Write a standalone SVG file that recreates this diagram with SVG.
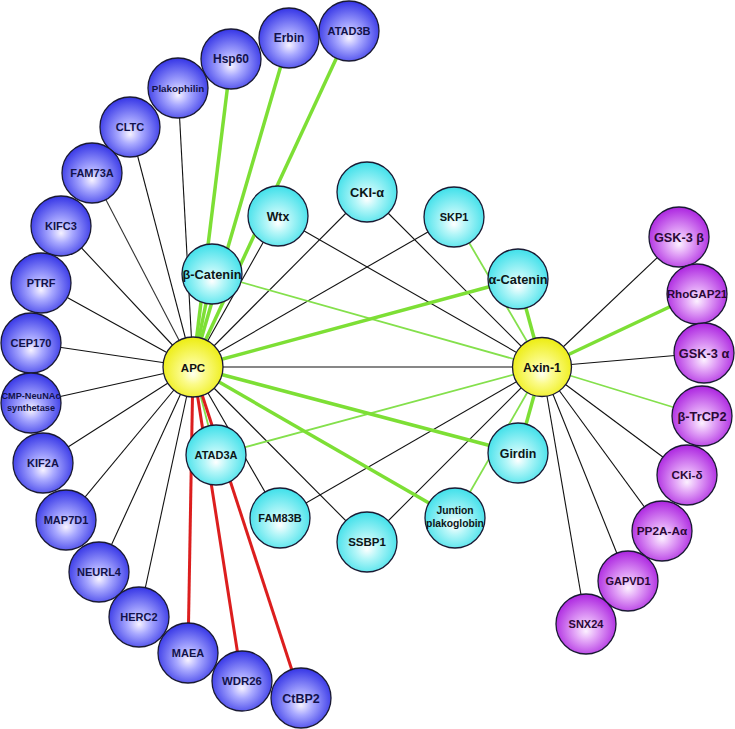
<svg xmlns="http://www.w3.org/2000/svg" width="735" height="729" viewBox="0 0 735 729">
<defs>
<radialGradient id="gB" cx="50%" cy="55%" r="55%" fx="50%" fy="62%"><stop offset="0" stop-color="#f6f2ff"/><stop offset="0.35" stop-color="#a9a9ff"/><stop offset="1" stop-color="#3535e6"/></radialGradient>
<radialGradient id="gC" cx="50%" cy="55%" r="55%" fx="50%" fy="62%"><stop offset="0" stop-color="#ffffff"/><stop offset="0.35" stop-color="#b4f6f8"/><stop offset="1" stop-color="#3fe0ea"/></radialGradient>
<radialGradient id="gM" cx="50%" cy="55%" r="55%" fx="50%" fy="62%"><stop offset="0" stop-color="#fcf0ff"/><stop offset="0.35" stop-color="#e3a6f7"/><stop offset="1" stop-color="#ac24e0"/></radialGradient>
<radialGradient id="gY" cx="50%" cy="55%" r="55%" fx="50%" fy="62%"><stop offset="0" stop-color="#ffffee"/><stop offset="0.35" stop-color="#fbfb8a"/><stop offset="1" stop-color="#eded10"/></radialGradient>
</defs>
<style>
circle{stroke:#1a1a33;stroke-width:1.3}
.b circle{fill:url(#gB)} .c circle{fill:url(#gC)} .m circle{fill:url(#gM)} .y circle{fill:url(#gY)}
text{font-family:"Liberation Sans",Arial,sans-serif;font-weight:bold;text-anchor:middle;font-size:11px}
.b text{fill:#12124a} .c text{fill:#0c1618} .m text{fill:#2a0836} .y text{fill:#111}
line{fill:none}
.k{stroke:#111;stroke-width:1.1}
.gt{stroke:#7ddf35;stroke-width:3.5}
.gn{stroke:#84e04c;stroke-width:1.8}
.r{stroke:#dc1e1e;stroke-width:3}
</style>
<rect width="735" height="729" fill="#fff"/>
<g id="edges">
<line class="k" x1="193" y1="367" x2="61" y2="226"/>
<line class="k" x1="193" y1="367" x2="92" y2="173" style="stroke:#333"/>
<line class="k" x1="193" y1="367" x2="130" y2="127"/>
<line class="k" x1="193" y1="367" x2="178" y2="88"/>
<line class="k" x1="193" y1="367" x2="41" y2="283"/>
<line class="k" x1="193" y1="367" x2="31" y2="343"/>
<line class="k" x1="193" y1="367" x2="31" y2="403"/>
<line class="k" x1="193" y1="367" x2="43" y2="463"/>
<line class="k" x1="193" y1="367" x2="66" y2="520"/>
<line class="k" x1="193" y1="367" x2="99" y2="572"/>
<line class="k" x1="193" y1="367" x2="139" y2="617"/>
<line class="k" x1="193" y1="367" x2="278" y2="216"/>
<line class="k" x1="193" y1="367" x2="367" y2="192"/>
<line class="k" x1="193" y1="367" x2="454" y2="217"/>
<line class="k" x1="193" y1="367" x2="542" y2="367"/>
<line class="k" x1="193" y1="367" x2="280" y2="518"/>
<line class="k" x1="193" y1="367" x2="367" y2="542"/>
<line class="k" x1="542" y1="367" x2="278" y2="216"/>
<line class="k" x1="542" y1="367" x2="367" y2="192"/>
<line class="k" x1="542" y1="367" x2="280" y2="518"/>
<line class="k" x1="542" y1="367" x2="367" y2="542"/>
<line class="k" x1="542" y1="367" x2="679" y2="237"/>
<line class="k" x1="542" y1="367" x2="704" y2="353"/>
<line class="k" x1="542" y1="367" x2="687" y2="475"/>
<line class="k" x1="542" y1="367" x2="662" y2="531"/>
<line class="k" x1="542" y1="367" x2="628" y2="581"/>
<line class="k" x1="542" y1="367" x2="586" y2="624"/>
<line class="gn" x1="212" y1="274" x2="542" y2="367"/>
<line class="gn" x1="454" y1="217" x2="542" y2="367"/>
<line class="gn" x1="216" y1="455" x2="542" y2="367"/>
<line class="gn" x1="455" y1="518" x2="542" y2="367"/>
<line class="gn" x1="193" y1="367" x2="216" y2="455"/>
<line class="gn" x1="542" y1="367" x2="702" y2="416"/>
<line class="gt" x1="193" y1="367" x2="231" y2="59"/>
<line class="gt" x1="193" y1="367" x2="289" y2="38"/>
<line class="gt" x1="193" y1="367" x2="349" y2="31"/>
<line class="gt" x1="193" y1="367" x2="212" y2="274"/>
<line class="gt" x1="193" y1="367" x2="518" y2="279"/>
<line class="gt" x1="193" y1="367" x2="518" y2="453"/>
<line class="gt" x1="193" y1="367" x2="455" y2="518"/>
<line class="gt" x1="542" y1="367" x2="518" y2="279"/>
<line class="gt" x1="542" y1="367" x2="518" y2="453"/>
<line class="gt" x1="542" y1="367" x2="697" y2="294"/>
<line class="r" x1="193" y1="367" x2="188" y2="653"/>
<line class="r" x1="193" y1="367" x2="242" y2="681"/>
<line class="r" x1="193" y1="367" x2="301" y2="698"/>
</g>
<g id="ATAD3B" class="b"><circle cx="349" cy="31" r="30"/><text x="349" y="35">ATAD3B</text></g>
<g id="Erbin" class="b"><circle cx="289" cy="38" r="30"/><text x="289" y="42" style="font-size:12px">Erbin</text></g>
<g id="Hsp60" class="b"><circle cx="231" cy="59" r="30"/><text x="231" y="63" style="font-size:12px">Hsp60</text></g>
<g id="Plakophilin" class="b"><circle cx="178" cy="88" r="30"/><text x="178" y="91.5" style="font-size:9.8px">Plakophilin</text></g>
<g id="CLTC" class="b"><circle cx="130" cy="127" r="30"/><text x="130" y="131">CLTC</text></g>
<g id="FAM73A" class="b"><circle cx="92" cy="173" r="30"/><text x="92" y="177">FAM73A</text></g>
<g id="KIFC3" class="b"><circle cx="61" cy="226" r="30"/><text x="61" y="230">KIFC3</text></g>
<g id="PTRF" class="b"><circle cx="41" cy="283" r="30"/><text x="41" y="287">PTRF</text></g>
<g id="CEP170" class="b"><circle cx="31" cy="343" r="30"/><text x="31" y="347">CEP170</text></g>
<g id="CMP-NeuNAc" class="b"><circle cx="31" cy="403" r="30"/><text x="31" y="399" style="font-size:9.2px">CMP-NeuNAc</text><text x="31" y="411" style="font-size:9.2px">synthetase</text></g>
<g id="KIF2A" class="b"><circle cx="43" cy="463" r="30"/><text x="43" y="467">KIF2A</text></g>
<g id="MAP7D1" class="b"><circle cx="66" cy="520" r="30"/><text x="66" y="524">MAP7D1</text></g>
<g id="NEURL4" class="b"><circle cx="99" cy="572" r="30"/><text x="99" y="576">NEURL4</text></g>
<g id="HERC2" class="b"><circle cx="139" cy="617" r="30"/><text x="139" y="621">HERC2</text></g>
<g id="MAEA" class="b"><circle cx="188" cy="653" r="30"/><text x="188" y="657">MAEA</text></g>
<g id="WDR26" class="b"><circle cx="242" cy="681" r="30"/><text x="242" y="685" style="font-size:11.4px">WDR26</text></g>
<g id="CtBP2" class="b"><circle cx="301" cy="698" r="30"/><text x="301" y="702.5" style="font-size:12.5px">CtBP2</text></g>
<g id="Wtx" class="c"><circle cx="278" cy="216" r="30"/><text x="278" y="220.5" style="font-size:12.4px">Wtx</text></g>
<g id="CKI-alpha" class="c"><circle cx="367" cy="192" r="30"/><text x="367" y="196.5" style="font-size:12.8px">CKI-α</text></g>
<g id="SKP1" class="c"><circle cx="454" cy="217" r="30"/><text x="454" y="221">SKP1</text></g>
<g id="beta-Catenin" class="c"><circle cx="212" cy="274" r="30"/><text x="212" y="278.5" style="font-size:12.8px">β-Catenin</text></g>
<g id="alpha-Catenin" class="c"><circle cx="518" cy="279" r="30"/><text x="518" y="283.5" style="font-size:12.8px">α-Catenin</text></g>
<g id="ATAD3A" class="c"><circle cx="216" cy="455" r="30"/><text x="216" y="459">ATAD3A</text></g>
<g id="FAM83B" class="c"><circle cx="280" cy="518" r="30"/><text x="280" y="522">FAM83B</text></g>
<g id="SSBP1" class="c"><circle cx="367" cy="542" r="30"/><text x="367" y="546" style="font-size:11.5px">SSBP1</text></g>
<g id="Juntion-plakoglobin" class="c"><circle cx="455" cy="518" r="30"/><text x="455" y="514" style="font-size:10.3px">Juntion</text><text x="455" y="527" style="font-size:10.3px">plakoglobin</text></g>
<g id="Girdin" class="c"><circle cx="518" cy="453" r="30"/><text x="518" y="457.5" style="font-size:12.4px">Girdin</text></g>
<g id="APC" class="y"><circle cx="193" cy="367" r="30"/><text x="193" y="371.5" style="font-size:11.5px">APC</text></g>
<g id="Axin-1" class="y"><circle cx="542" cy="367" r="29.5"/><text x="542" y="371.5" style="font-size:12.4px">Axin-1</text></g>
<g id="GSK-3beta" class="m"><circle cx="679" cy="237" r="30"/><text x="679" y="241.5" style="font-size:12.7px">GSK-3 β</text></g>
<g id="RhoGAP21" class="m"><circle cx="697" cy="294" r="30"/><text x="697" y="298" style="font-size:11.6px">RhoGAP21</text></g>
<g id="GSK-3alpha" class="m"><circle cx="704" cy="353" r="30"/><text x="704" y="357.5" style="font-size:12.8px">GSK-3 α</text></g>
<g id="beta-TrCP2" class="m"><circle cx="702" cy="416" r="30"/><text x="702" y="420.5" style="font-size:12.8px">β-TrCP2</text></g>
<g id="CKi-delta" class="m"><circle cx="687" cy="475" r="30"/><text x="687" y="479" style="font-size:11.7px">CKi-δ</text></g>
<g id="PP2A-Aalpha" class="m"><circle cx="662" cy="531" r="30"/><text x="662" y="535" style="font-size:11.8px">PP2A-Aα</text></g>
<g id="GAPVD1" class="m"><circle cx="628" cy="581" r="30"/><text x="628" y="585">GAPVD1</text></g>
<g id="SNX24" class="m"><circle cx="586" cy="624" r="30"/><text x="586" y="628">SNX24</text></g>
</svg>
